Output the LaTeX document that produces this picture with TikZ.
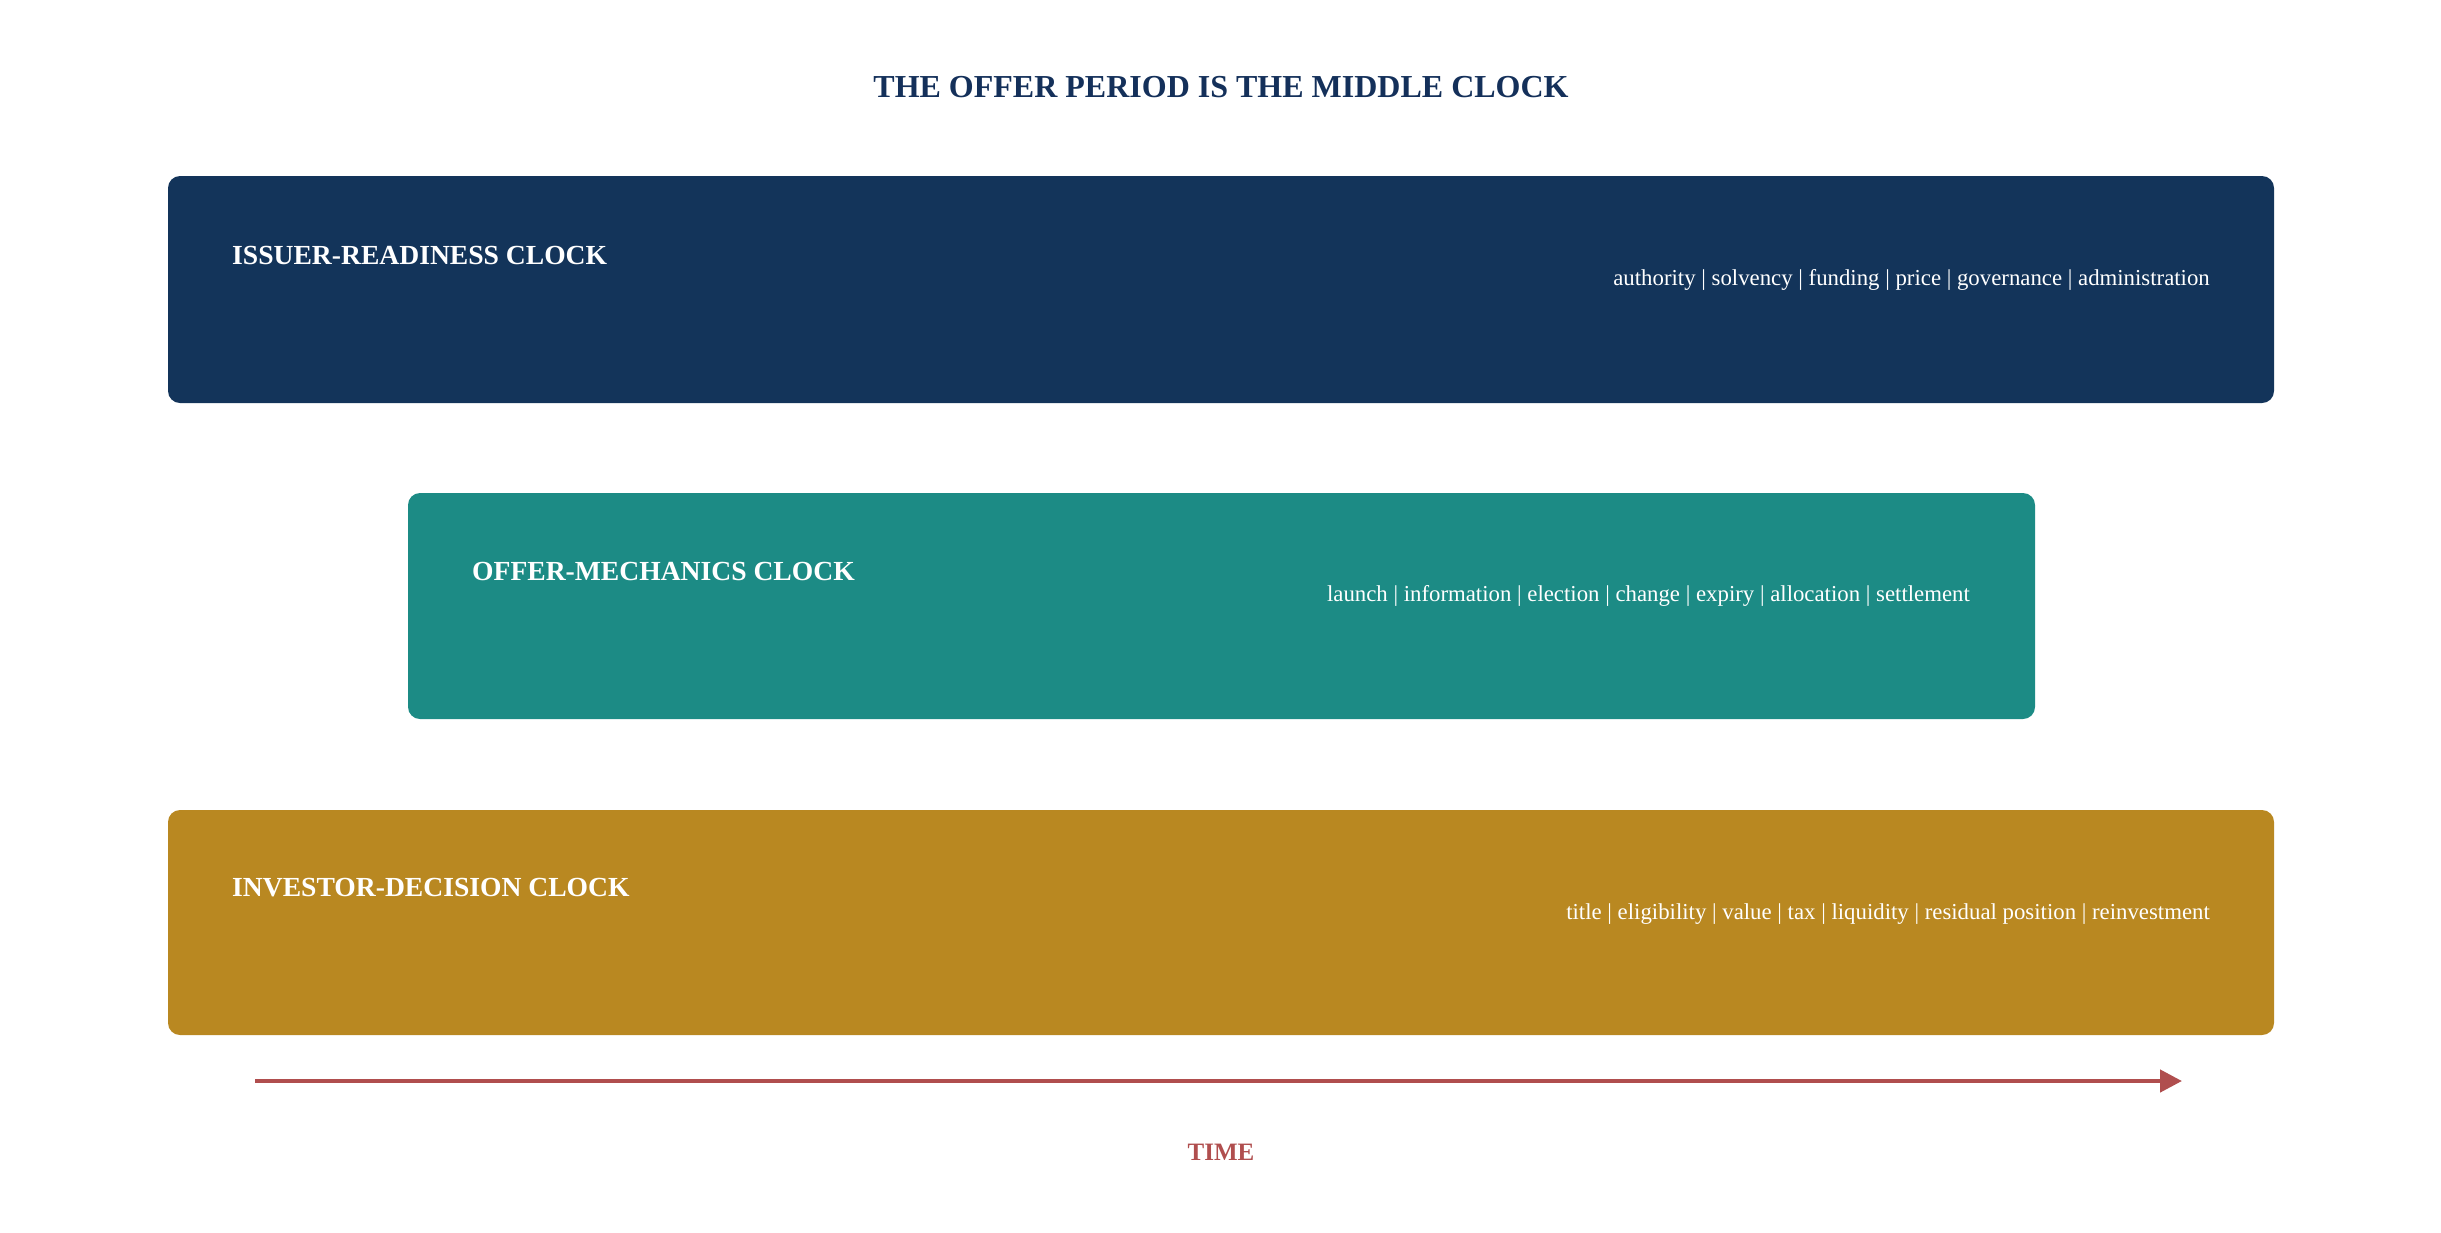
\documentclass[tikz,border=0pt]{standalone}
\usepackage{fontspec}
\setmainfont{Liberation Serif}
\usetikzlibrary{arrows.meta}
\definecolor{navy}{HTML}{13345A}
\definecolor{teal}{HTML}{1C8B85}
\definecolor{gold}{HTML}{B98821}
\definecolor{timered}{HTML}{B04E4E}
\definecolor{titlenavy}{HTML}{14305A}
\tikzset{
  clockbox/.style={rectangle, rounded corners=12pt, inner sep=0pt, draw=none},
  clocklabel/.style={anchor=base west, inner sep=0pt, text=white, font=\fontsize{27.6}{32}\selectfont\bfseries},
  clockitems/.style={anchor=base east, inner sep=0pt, text=white, font=\fontsize{22.8}{28}\selectfont},
  timearrow/.style={draw=timered, line width=4.5pt, -{Triangle[length=22pt,width=22pt]}},
}
\begin{document}
\begin{tikzpicture}[x=1pt,y=-1pt]
\useasboundingbox (0,0) rectangle (2441,1232);
\node[anchor=base, inner sep=0pt, text=titlenavy, font=\fontsize{32}{38}\selectfont\bfseries] (title) at (1221,97) {THE OFFER PERIOD IS THE MIDDLE CLOCK};

\node[clockbox, fill=navy, minimum width=2106pt, minimum height=227pt] (issuer) at (1221,289.5) {};
\node[clocklabel] (issuerlabel) at (232,264) {ISSUER-READINESS CLOCK};
\node[clockitems] (issueritems) at (2210,285) {authority | solvency | funding | price | governance | administration};

\node[clockbox, fill=teal, minimum width=1627pt, minimum height=226pt] (offer) at (1221.5,606) {};
\node[clocklabel] (offerlabel) at (472,580) {OFFER-MECHANICS CLOCK};
\node[clockitems] (offeritems) at (1970,601) {launch | information | election | change | expiry | allocation | settlement};

\node[clockbox, fill=gold, minimum width=2106pt, minimum height=225pt] (investor) at (1221,922.5) {};
\node[clocklabel] (investorlabel) at (232,896) {INVESTOR-DECISION CLOCK};
\node[clockitems] (investoritems) at (2210,919) {title | eligibility | value | tax | liquidity | residual position | reinvestment};

\coordinate (tstart) at (255,1081);
\coordinate (tend) at (2182,1081);
\draw[timearrow] (tstart) -- (tend);
\node[anchor=base, inner sep=0pt, text=timered, font=\fontsize{25}{30}\selectfont\bfseries] (time) at (1221,1160) {TIME};
\end{tikzpicture}
\end{document}
